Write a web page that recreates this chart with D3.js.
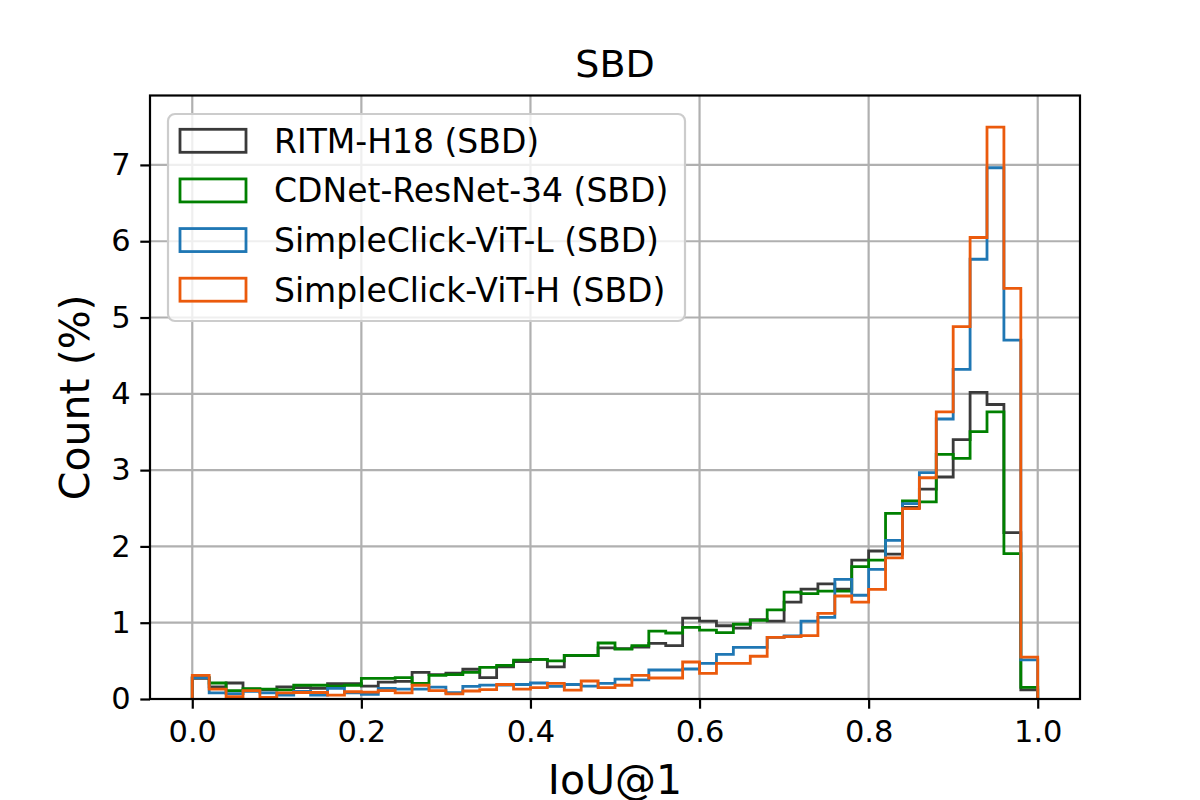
<!DOCTYPE html>
<html>
<head>
<meta charset="utf-8">
<script src="https://cdn.jsdelivr.net/npm/d3@7/dist/d3.min.js"></script>
<style>
  html, body { margin: 0; padding: 0; background: #fff; }
  svg { display: block; font-family: "DejaVu Sans", sans-serif; }
</style>
</head>
<body>
<svg id="chart" width="1200" height="800"></svg>
<script>
// ---- Data (percent of samples per IoU bin, 50 bins of width 0.02 over [0,1]) ----
const binEdgesStart = 0, binEdgesEnd = 1, binCount = 50;
const seriesNames = ["RITM-H18 (SBD)", "CDNet-ResNet-34 (SBD)", "SimpleClick-ViT-L (SBD)", "SimpleClick-ViT-H (SBD)"];
const seriesColors = ["#3a3a3a", "#008000", "#1f77b4", "#eb5a0c"];

const ritm = [0.27,0.16,0.21,0.13,0.12,0.16,0.15,0.14,0.20,0.20,
              0.17,0.22,0.23,0.35,0.32,0.34,0.39,0.28,0.42,0.49,
              0.52,0.42,0.57,0.57,0.67,0.66,0.68,0.73,0.70,1.06,
              1.02,0.96,0.93,1.04,1.02,1.27,1.44,1.51,1.44,1.82,
              1.94,1.90,2.51,2.75,2.91,3.40,4.02,3.86,2.18,0.12];
const cdnet = [0.28,0.21,0.11,0.135,0.13,0.12,0.18,0.18,0.17,0.18,
               0.27,0.27,0.28,0.205,0.31,0.32,0.35,0.415,0.44,0.51,
               0.52,0.50,0.573,0.568,0.734,0.655,0.70,0.89,0.865,0.94,
               0.904,0.87,0.98,1.03,1.167,1.40,1.38,1.415,1.415,1.735,
               1.82,2.434,2.595,2.585,3.205,3.154,3.504,3.763,1.905,0.152];
const vitL = [0.28,0.08,0.07,0.10,0.08,0.05,0.10,0.05,0.14,0.08,
              0.06,0.14,0.13,0.13,0.155,0.083,0.166,0.183,0.183,0.19,
              0.21,0.166,0.19,0.17,0.205,0.26,0.25,0.38,0.38,0.393,
              0.468,0.586,0.677,0.677,0.808,0.826,1.022,1.07,1.569,1.36,
              1.70,2.08,2.56,2.966,3.67,4.32,5.764,6.963,4.703,0.513];
const vitH = [0.31,0.13,0.03,0.11,0.02,0.08,0.085,0.085,0.05,0.095,
              0.09,0.11,0.08,0.18,0.11,0.066,0.105,0.122,0.19,0.13,
              0.15,0.205,0.117,0.236,0.15,0.18,0.31,0.275,0.275,0.485,
              0.336,0.468,0.468,0.56,0.808,0.817,0.83,1.123,1.35,1.27,
              1.437,1.85,2.495,2.90,3.763,4.88,6.049,7.496,5.383,0.548];

const xTicks = [0.0, 0.2, 0.4, 0.6, 0.8, 1.0];
const yTicks = [0, 1, 2, 3, 4, 5, 6, 7];
const xDomain = [-0.05, 1.05];
const yDomain = [0, 7.91];

const titleText = "SBD";
const xLabelText = "IoU@1";
const yLabelText = "Count (%)";

// ---- Layout ----
const plot = { left: 150, right: 1080, top: 95.5, bottom: 699 };
const svg = d3.select("#chart");

const x = d3.scaleLinear().domain(xDomain).range([plot.left, plot.right]);
const y = d3.scaleLinear().domain(yDomain).range([plot.bottom, plot.top]);

svg.append("defs").append("clipPath").attr("id", "clip")
  .append("rect").attr("x", plot.left).attr("y", plot.top)
  .attr("width", plot.right - plot.left).attr("height", plot.bottom - plot.top);

// grid
const grid = svg.append("g");
grid.selectAll("line.gx").data(xTicks).join("line")
  .attr("x1", d => x(d)).attr("x2", d => x(d))
  .attr("y1", plot.top).attr("y2", plot.bottom)
  .attr("stroke", "#b0b0b0").attr("stroke-width", 2.2);
grid.selectAll("line.gy").data(yTicks).join("line")
  .attr("class", "gy")
  .attr("x1", plot.left).attr("x2", plot.right)
  .attr("y1", d => y(d)).attr("y2", d => y(d))
  .attr("stroke", "#b0b0b0").attr("stroke-width", 2.2);

// histogram step outlines
const binW = (binEdgesEnd - binEdgesStart) / binCount;
function stepPoints(vals) {
  const pts = [[binEdgesStart, 0]];
  vals.forEach((v, i) => {
    pts.push([binEdgesStart + i * binW, v]);
    pts.push([binEdgesStart + (i + 1) * binW, v]);
  });
  pts.push([binEdgesEnd, 0]);
  return pts;
}
const line = d3.line().x(d => x(d[0])).y(d => y(d[1]));
const allSeries = [ritm, cdnet, vitL, vitH];
const marks = svg.append("g").attr("clip-path", "url(#clip)");
allSeries.forEach((vals, i) => {
  marks.append("path")
    .attr("d", line(stepPoints(vals)))
    .attr("fill", "none")
    .attr("stroke", seriesColors[i])
    .attr("stroke-width", 2.8)
    .attr("stroke-linejoin", "miter");
});

// axes
const xAxis = d3.axisBottom(x).tickValues(xTicks).tickFormat(d3.format(".1f"))
  .tickSize(9.7).tickPadding(9.7);
const yAxis = d3.axisLeft(y).tickValues(yTicks).tickFormat(d3.format("d"))
  .tickSize(9.7).tickPadding(9.7);

const gx = svg.append("g").attr("transform", `translate(0,${plot.bottom})`).call(xAxis);
const gy = svg.append("g").attr("transform", `translate(${plot.left},0)`).call(yAxis);
[gx, gy].forEach(g => {
  g.select(".domain").remove();
  g.selectAll(".tick line").attr("stroke", "#000").attr("stroke-width", 2.2);
  g.selectAll(".tick text").attr("fill", "#000")
    .style("font-family", "DejaVu Sans").style("font-size", "30.5px");
});
gx.selectAll(".tick text").attr("dy", "0.78em");

// spines
svg.append("rect")
  .attr("x", plot.left).attr("y", plot.top)
  .attr("width", plot.right - plot.left).attr("height", plot.bottom - plot.top)
  .attr("fill", "none").attr("stroke", "#000").attr("stroke-width", 2.2);

// title & labels
svg.append("text").attr("x", (plot.left + plot.right) / 2).attr("y", 77)
  .attr("text-anchor", "middle").style("font-size", "38px").text(titleText);
svg.append("text").attr("x", (plot.left + plot.right) / 2).attr("y", 794)
  .attr("text-anchor", "middle").style("font-size", "41px").text(xLabelText);
svg.append("text")
  .attr("transform", `translate(89,${(plot.top + plot.bottom) / 2}) rotate(-90)`)
  .attr("text-anchor", "middle").style("font-size", "41px").text(yLabelText);

// legend
const legend = svg.append("g");
legend.append("rect")
  .attr("x", 168).attr("y", 114).attr("width", 517).attr("height", 207)
  .attr("rx", 7).attr("ry", 7)
  .attr("fill", "rgba(255,255,255,0.8)").attr("stroke", "#cccccc").attr("stroke-width", 2.2);
const rowY = d3.scaleLinear().domain([0, seriesNames.length - 1]).range([140.8, 289.7]);
seriesNames.forEach((name, i) => {
  legend.append("rect")
    .attr("x", 180).attr("y", rowY(i) - 11.5).attr("width", 66).attr("height", 23)
    .attr("fill", "none").attr("stroke", seriesColors[i]).attr("stroke-width", 2.8);
  legend.append("text")
    .attr("x", 274).attr("y", rowY(i)).attr("dy", "0.36em")
    .style("font-size", "33px").attr("fill", "#000").text(name);
});
</script>
</body>
</html>
